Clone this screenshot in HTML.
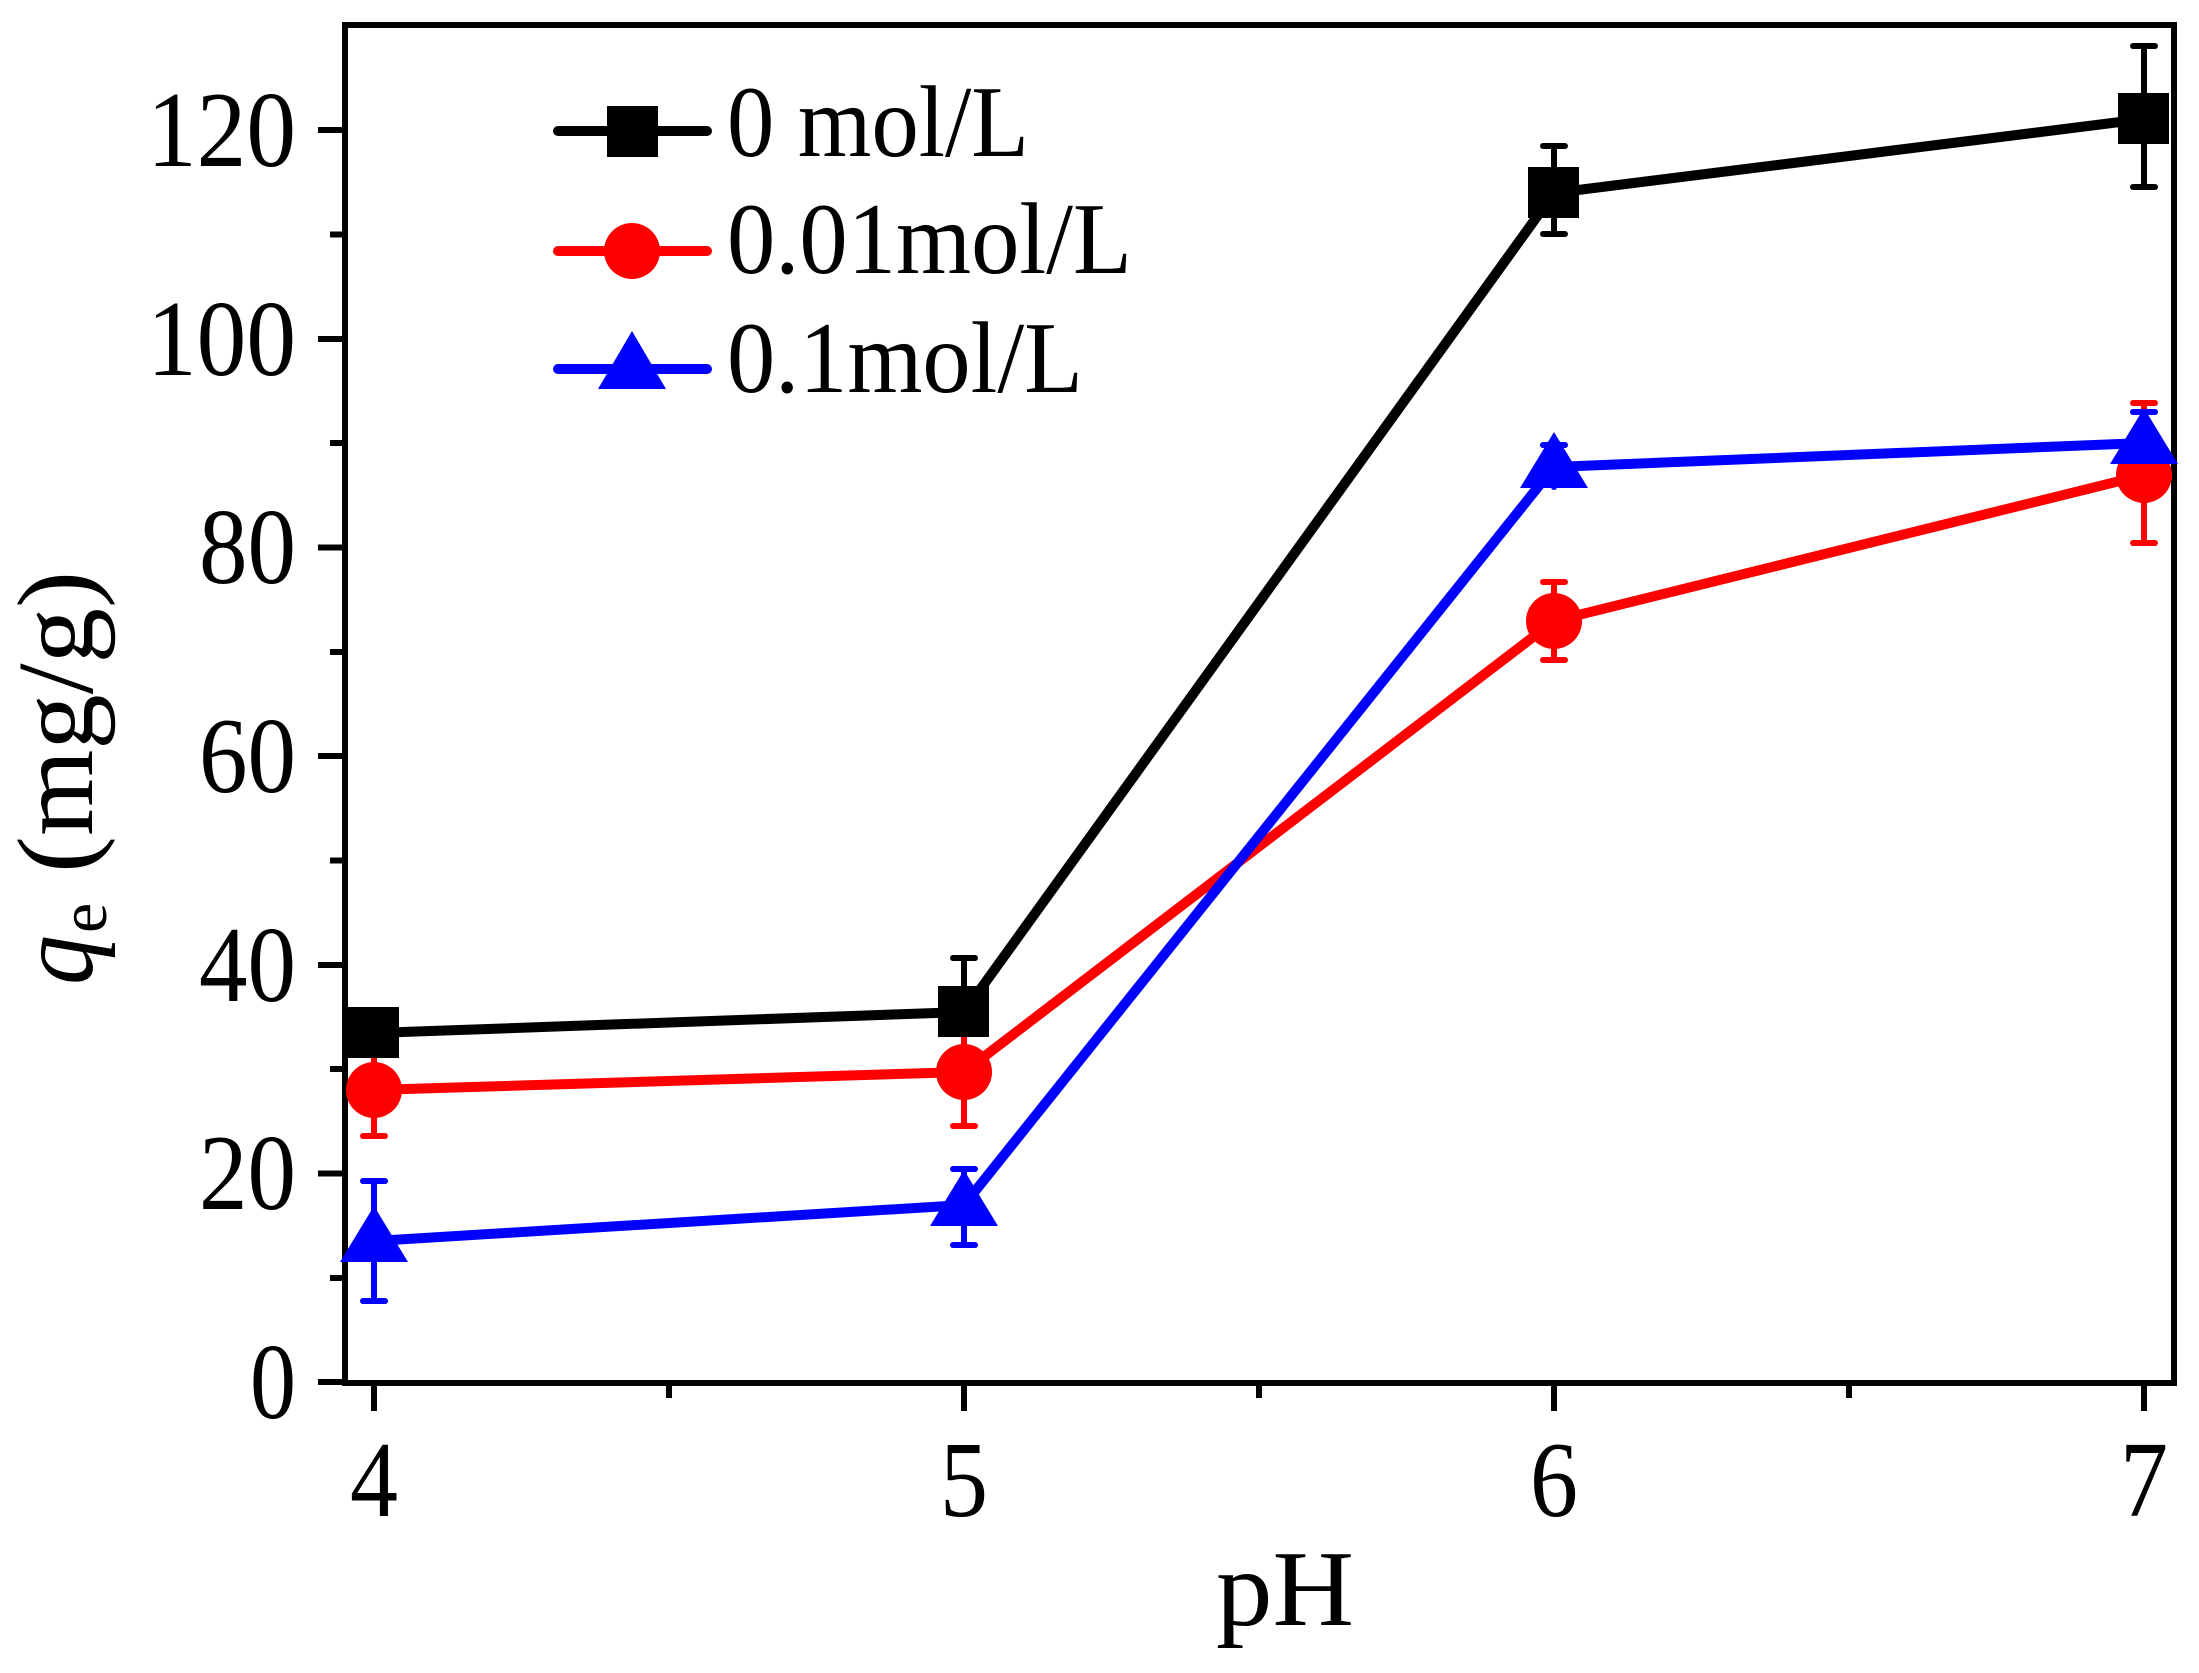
<!DOCTYPE html>
<html><head><meta charset="utf-8"><style>html,body{margin:0;padding:0;background:#fff}svg{display:block}text{font-family:"Liberation Serif","Times New Roman",serif}</style></head>
<body>
<svg width="2199" height="1673" viewBox="0 0 2199 1673" xmlns="http://www.w3.org/2000/svg">
<rect width="2199" height="1673" fill="#fff"/>
<g stroke="#000" stroke-width="6" fill="none" stroke-linecap="square">
<rect x="345" y="25" width="1829" height="1358"/>
</g>
<g stroke="#000" stroke-width="6">
<line x1="374" y1="1383" x2="374" y2="1411"/>
<line x1="964" y1="1383" x2="964" y2="1411"/>
<line x1="1554" y1="1383" x2="1554" y2="1411"/>
<line x1="2144" y1="1383" x2="2144" y2="1411"/>
<line x1="669" y1="1383" x2="669" y2="1398"/>
<line x1="1259" y1="1383" x2="1259" y2="1398"/>
<line x1="1849" y1="1383" x2="1849" y2="1398"/>
<line x1="318" y1="1382" x2="345" y2="1382"/>
<line x1="318" y1="1173.5" x2="345" y2="1173.5"/>
<line x1="318" y1="965" x2="345" y2="965"/>
<line x1="318" y1="756" x2="345" y2="756"/>
<line x1="318" y1="547.5" x2="345" y2="547.5"/>
<line x1="318" y1="339" x2="345" y2="339"/>
<line x1="318" y1="130" x2="345" y2="130"/>
<line x1="330" y1="1278" x2="345" y2="1278"/>
<line x1="330" y1="1069" x2="345" y2="1069"/>
<line x1="330" y1="860.5" x2="345" y2="860.5"/>
<line x1="330" y1="652" x2="345" y2="652"/>
<line x1="330" y1="443" x2="345" y2="443"/>
<line x1="330" y1="234.5" x2="345" y2="234.5"/>
</g>
<g font-size="108" text-anchor="end" fill="#000">
<text x="296" y="1418" textLength="46" lengthAdjust="spacingAndGlyphs">0</text>
<text x="296" y="1209" textLength="97" lengthAdjust="spacingAndGlyphs">20</text>
<text x="296" y="1001" textLength="97" lengthAdjust="spacingAndGlyphs">40</text>
<text x="296" y="792" textLength="97" lengthAdjust="spacingAndGlyphs">60</text>
<text x="296" y="583" textLength="97" lengthAdjust="spacingAndGlyphs">80</text>
<text x="296" y="375" textLength="149" lengthAdjust="spacingAndGlyphs">100</text>
<text x="296" y="166" textLength="149" lengthAdjust="spacingAndGlyphs">120</text>
</g>
<g font-size="108" text-anchor="middle" fill="#000">
<text x="374" y="1516" textLength="48" lengthAdjust="spacingAndGlyphs">4</text>
<text x="964" y="1516" textLength="48" lengthAdjust="spacingAndGlyphs">5</text>
<text x="1554" y="1516" textLength="48" lengthAdjust="spacingAndGlyphs">6</text>
<text x="2144" y="1516" textLength="48" lengthAdjust="spacingAndGlyphs">7</text>
<text x="1285" y="1625" textLength="138" lengthAdjust="spacingAndGlyphs">pH</text>
</g>
<g transform="translate(92,778) rotate(-90)">
<text x="-207" y="0" font-size="108" font-style="italic" fill="#000" textLength="50" lengthAdjust="spacingAndGlyphs">q</text>
<text x="-155" y="14" font-size="68" fill="#000">e</text>
<text x="-95" y="0" font-size="108" fill="#000" textLength="302" lengthAdjust="spacingAndGlyphs">(mg/g)</text>
</g>

<g stroke-width="6" stroke-linecap="round">
<g stroke="#000">
<line x1="964" y1="958" x2="964" y2="1045"/><line x1="953" y1="958" x2="975" y2="958"/>
<line x1="1554" y1="146" x2="1554" y2="234"/><line x1="1543" y1="146" x2="1565" y2="146"/><line x1="1543" y1="234" x2="1565" y2="234"/>
<line x1="2144" y1="46" x2="2144" y2="187"/><line x1="2133" y1="46" x2="2155" y2="46"/><line x1="2133" y1="187" x2="2155" y2="187"/>
</g>
<g stroke="#f00">
<line x1="374" y1="1045" x2="374" y2="1136"/><line x1="363" y1="1045" x2="385" y2="1045"/><line x1="363" y1="1136" x2="385" y2="1136"/>
<line x1="964" y1="1020" x2="964" y2="1126"/><line x1="953" y1="1020" x2="975" y2="1020"/><line x1="953" y1="1126" x2="975" y2="1126"/>
<line x1="1554" y1="582" x2="1554" y2="660"/><line x1="1543" y1="582" x2="1565" y2="582"/><line x1="1543" y1="660" x2="1565" y2="660"/>
<line x1="2144" y1="403" x2="2144" y2="543"/><line x1="2133" y1="403" x2="2155" y2="403"/><line x1="2133" y1="543" x2="2155" y2="543"/>
</g>
<g stroke="#00f">
<line x1="374" y1="1181" x2="374" y2="1301"/><line x1="363" y1="1181" x2="385" y2="1181"/><line x1="363" y1="1301" x2="385" y2="1301"/>
<line x1="964" y1="1169" x2="964" y2="1245"/><line x1="953" y1="1169" x2="975" y2="1169"/><line x1="953" y1="1245" x2="975" y2="1245"/>
<line x1="1554" y1="445" x2="1554" y2="487"/><line x1="1543" y1="445" x2="1565" y2="445"/>
<line x1="2144" y1="412" x2="2144" y2="475"/><line x1="2133" y1="412" x2="2155" y2="412"/><line x1="2133" y1="475" x2="2155" y2="475"/>
</g>
</g>
<g fill="none" stroke-width="10" stroke-linejoin="round">
<polyline stroke="#000" points="374,1033 964,1012 1554,193 2144,119"/>
<polyline stroke="#f00" points="374,1090 964,1072 1554,621 2144,475"/>
<polyline stroke="#00f" points="374,1241 964,1205 1554,467 2144,443"/>
</g>
<g fill="#000">
<rect x="348" y="1007" width="51" height="51"/>
<rect x="938" y="986" width="51" height="51"/>
<rect x="1528" y="167" width="51" height="51"/>
<rect x="2118" y="93" width="51" height="51"/>
</g>
<g fill="#f00">
<circle cx="374" cy="1090" r="28"/>
<circle cx="964" cy="1072" r="28"/>
<circle cx="1554" cy="621" r="28"/>
<circle cx="2144" cy="475" r="28"/>
</g>
<g fill="#00f">
<polygon points="374,1206 408,1262 340,1262"/>
<polygon points="964,1170 998,1226 930,1226"/>
<polygon points="1554,432 1588,488 1520,488"/>
<polygon points="2144,408 2178,464 2110,464"/>
</g>
<g stroke-width="10" stroke-linecap="round">
<line x1="558" y1="131" x2="707" y2="131" stroke="#000"/>
<line x1="558" y1="251" x2="707" y2="251" stroke="#f00"/>
<line x1="558" y1="369" x2="707" y2="369" stroke="#00f"/>
</g>
<rect x="607" y="106" width="51" height="51" fill="#000"/>
<circle cx="632" cy="251" r="28" fill="#f00"/>
<polygon points="632,331 666,389 598,389" fill="#00f"/>
<g font-size="102" fill="#000">
<text x="727" y="156" textLength="302" lengthAdjust="spacingAndGlyphs">0 mol/L</text>
<text x="727" y="273" textLength="405" lengthAdjust="spacingAndGlyphs">0.01mol/L</text>
<text x="727" y="392" textLength="356" lengthAdjust="spacingAndGlyphs">0.1mol/L</text>
</g>
</svg>
</body></html>
